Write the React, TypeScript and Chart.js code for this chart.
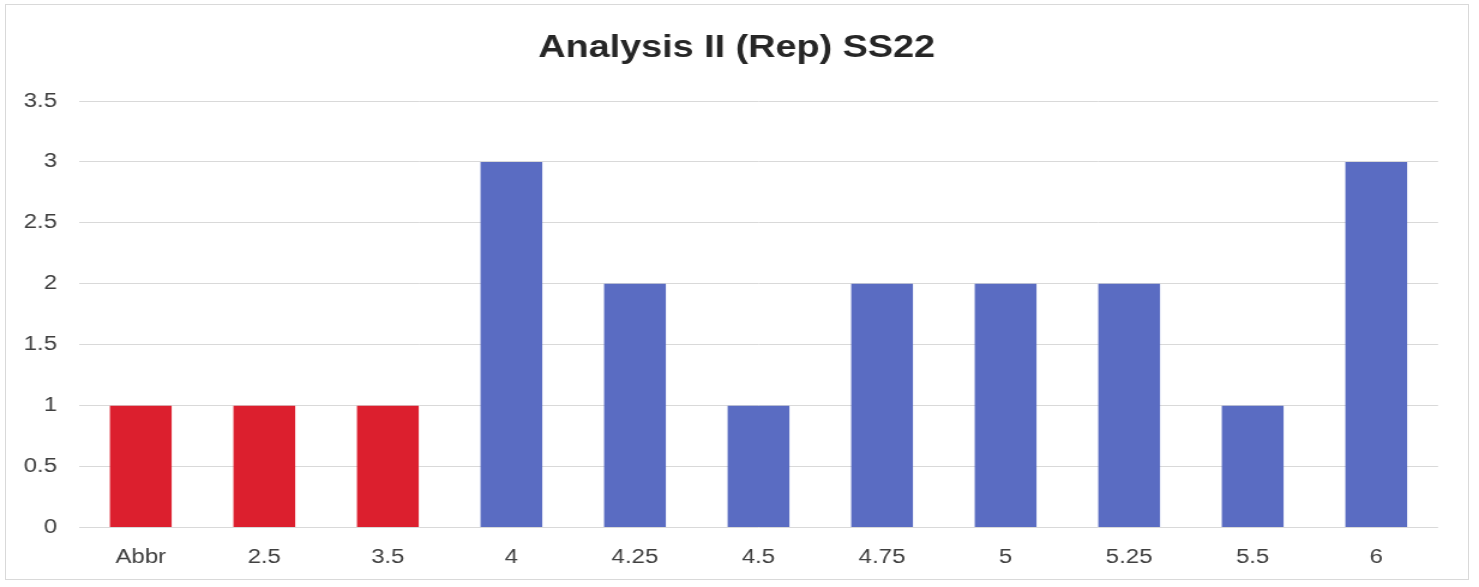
import React, { useEffect, useRef } from "react";
import { Chart, registerables } from "chart.js";

Chart.register(...registerables);

const categories = ["Abbr", "2.5", "3.5", "4", "4.25", "4.5", "4.75", "5", "5.25", "5.5", "6"];
const counts = [1, 1, 1, 3, 2, 1, 2, 2, 2, 1, 3];
const failingCategories = ["Abbr", "2.5", "3.5"];
const titleText = "Analysis II (Rep) SS22";

const RED = "#dc1f2e";
const BLUE = "#5a6cc2";
const FONT = "'Liberation Sans', Arial, sans-serif";

// the reference is horizontally stretched; render narrower and stretch with CSS
const W = 1479;
const H = 587;
const SX = 1.2;
const CW = Math.round(W / SX);

const titlePlugin = {
  id: "centerTitle",
  afterDraw(chart: any) {
    const ctx = chart.ctx;
    ctx.save();
    ctx.font = `bold 31.5px ${FONT}`;
    ctx.fillStyle = "#262626";
    ctx.textAlign = "center";
    ctx.textBaseline = "alphabetic";
    ctx.fillText(titleText, 737 / SX, 57);
    ctx.restore();
  },
};

export default function App() {
  const ref = useRef<HTMLCanvasElement | null>(null);

  useEffect(() => {
    document.body.style.margin = "0";
    const canvas = ref.current;
    if (!canvas) return;
    const chart = new Chart(canvas, {
      type: "bar",
      data: {
        labels: categories,
        datasets: [
          {
            data: counts,
            backgroundColor: categories.map((c) => (failingCategories.includes(c) ? RED : BLUE)),
            barPercentage: 0.5,
            categoryPercentage: 1,
            borderWidth: 0,
          },
        ],
      },
      options: {
        responsive: false,
        animation: false,
        devicePixelRatio: 1,
        layout: { padding: { left: 0, right: 41 / SX, top: 101, bottom: 0 } },
        plugins: {
          legend: { display: false },
          tooltip: { enabled: false },
          title: { display: false },
        },
        scales: {
          x: {
            grid: { display: false, drawTicks: false },
            border: { display: false },
            ticks: {
              color: "#404040",
              font: { family: FONT, size: 20 },
              padding: 18,
              maxRotation: 0,
            },
            afterFit: (s: any) => {
              s.height = 59.5;
            },
          },
          y: {
            min: 0,
            max: 3.5,
            ticks: {
              stepSize: 0.5,
              color: "#404040",
              font: { family: FONT, size: 20 },
              padding: 22 / SX,
              callback: (v: any) => String(Number(v)),
            },
            grid: { color: "#d9d9d9", lineWidth: 1, drawTicks: false },
            border: { display: false },
            afterFit: (s: any) => {
              s.width = 79 / SX;
            },
          },
        },
      },
      plugins: [titlePlugin],
    });
    return () => chart.destroy();
  }, []);

  return (
    <div style={{ position: "relative", width: W, height: H, background: "#fff" }}>
      <div
        style={{
          position: "absolute",
          left: 5,
          top: 4,
          width: 1464,
          height: 576,
          border: "1px solid #d9d9d9",
          boxSizing: "border-box",
        }}
      />
      <canvas
        ref={ref}
        width={CW}
        height={H}
        style={{ position: "absolute", left: 0, top: 0, width: W, height: H }}
      />
    </div>
  );
}
